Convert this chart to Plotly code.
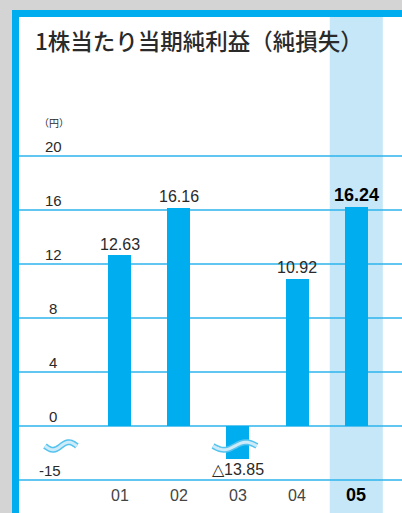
import plotly.graph_objects as go
import numpy as np

# ---- data ----
years = ["01", "02", "03", "04", "05"]
eps = [12.63, 16.16, -13.85, 10.92, 16.24]
value_labels = ["12.63", "16.16", "△13.85", "10.92", "16.24"]
y_ticks = [20, 16, 12, 8, 4, 0]
y_tick_labels = ["20", "16", "12", "8", "4", "0"]
break_tick_label = "-15"
break_tick_value = -15
unit_label = "（円）"
title = "1株当たり当期純利益（純損失）"

# ---- broken-axis mapping (negative values compressed below the break) ----
BREAK_BOTTOM = -4.0          # display position of the -15 line (one grid step)
NEG_SCALE = 2.45 / 13.85     # compression of negative values in the broken segment


def disp(v):
    return v if v >= 0 else v * NEG_SCALE


W, H = 402, 513
PX_PER_UNIT = 13.5
ZERO_PX = 426.0
y_range = [(ZERO_PX - H) / PX_PER_UNIT, ZERO_PX / PX_PER_UNIT]
X0_PX, STEP_PX = 119.5, 59.2
x_range = [-X0_PX / STEP_PX, (W - X0_PX) / STEP_PX]


def ypx(p):  # pixel -> paper y
    return 1 - p / H


def xpx(p):  # pixel -> paper x
    return p / W


BLUE = "#00aeef"
GRID = "#2cb4ec"
LIGHT = "#c6e7f8"
TXT = "#2a2a2a"

xs = list(range(len(years)))
disp_vals = [disp(v) for v in eps]

fig = go.Figure()
fig.add_trace(go.Bar(x=xs, y=disp_vals, width=0.39, marker=dict(color=BLUE, line=dict(width=0)),
                     hoverinfo="skip"))

shapes = []
# white panel
shapes.append(dict(type="rect", xref="paper", yref="paper", x0=xpx(19), x1=1, y0=0, y1=ypx(17),
                   fillcolor="white", line=dict(width=0), layer="below"))
# blue frame
shapes.append(dict(type="rect", xref="paper", yref="paper", x0=xpx(12), x1=xpx(19), y0=0, y1=ypx(10),
                   fillcolor=BLUE, line=dict(width=0), layer="below"))
shapes.append(dict(type="rect", xref="paper", yref="paper", x0=xpx(12), x1=1, y0=ypx(17), y1=ypx(10),
                   fillcolor=BLUE, line=dict(width=0), layer="below"))
# highlight column for the latest year
shapes.append(dict(type="rect", xref="x", yref="paper", x0=4 - 26.5 / STEP_PX, x1=4 + 26.5 / STEP_PX,
                   y0=0, y1=ypx(17), fillcolor=LIGHT, line=dict(width=0), layer="below"))
# gridlines
for t in y_ticks + [BREAK_BOTTOM]:
    shapes.append(dict(type="line", xref="paper", yref="y", x0=xpx(19), x1=1, y0=t, y1=t,
                       line=dict(color=GRID, width=1.5), layer="below"))


# wavy break marks
def wave(cx, half, yc):
    xs_ = np.linspace(cx - half, cx + half, 30)
    ph = np.linspace(0, 2 * np.pi, 30)
    pts = [(x, yc - 0.28 * np.sin(ph[i])) for i, x in enumerate(xs_)]
    return "M " + " L ".join(f"{x:.4f},{y:.4f}" for x, y in pts)


for cx, half in [(-0.99, 0.27), (1.95, 0.37)]:
    p = wave(cx, half, -1.48)
    shapes.append(dict(type="path", xref="x", yref="y", path=p, line=dict(color="#55c3ee", width=6),
                       layer="above"))
    shapes.append(dict(type="path", xref="x", yref="y", path=p, line=dict(color="#cdebf9", width=3),
                       layer="above"))

annotations = []
annotations.append(dict(text=title, xref="paper", yref="paper", x=xpx(33), y=ypx(40), xanchor="left",
                        yanchor="middle", showarrow=False,
                        font=dict(family="Noto Sans CJK JP", size=22.5, color=TXT, weight=500)))
annotations.append(dict(text=unit_label, xref="paper", yref="paper", x=xpx(54), y=ypx(123),
                        xanchor="center", yanchor="middle", showarrow=False,
                        font=dict(family="Noto Sans CJK JP", size=10, color=TXT)))
for t, lab in zip(y_ticks, y_tick_labels):
    annotations.append(dict(text=lab, xref="paper", yref="y", x=xpx(53), y=t, yshift=10,
                            xanchor="center", yanchor="middle", showarrow=False,
                            font=dict(family="Liberation Sans", size=15, color=TXT)))
annotations.append(dict(text=break_tick_label, xref="paper", yref="y", x=xpx(50), y=BREAK_BOTTOM,
                        yshift=10, xanchor="center", yanchor="middle", showarrow=False,
                        font=dict(family="Liberation Sans", size=15, color=TXT)))

for i, (v, d, lab) in enumerate(zip(eps, disp_vals, value_labels)):
    bold = i == len(eps) - 1
    ys = 11 if v >= 0 else -10
    annotations.append(dict(text=f"<b>{lab}</b>" if bold else lab, x=i, y=d, yshift=ys + (1 if bold else 0),
                            xanchor="center", yanchor="middle", showarrow=False,
                            font=dict(family="Liberation Sans", size=18 if bold else 16,
                                      color="#000" if bold else TXT)))
    annotations.append(dict(text=f"<b>{years[i]}</b>" if bold else years[i], x=i, xref="x",
                            yref="paper", y=ypx(495), xanchor="center", yanchor="middle",
                            showarrow=False,
                            font=dict(family="Liberation Sans", size=18 if bold else 16,
                                      color="#000" if bold else "#444")))

fig.update_layout(
    width=W, height=H,
    margin=dict(l=0, r=0, t=0, b=0, pad=0),
    paper_bgcolor="#d4d4d4",
    plot_bgcolor="rgba(0,0,0,0)",
    showlegend=False,
    xaxis=dict(range=x_range, visible=False, fixedrange=True),
    yaxis=dict(range=y_range, visible=False, fixedrange=True),
    shapes=shapes,
    annotations=annotations,
    bargap=0,
)

fig.write_html("out.html", config={"displayModeBar": False})
